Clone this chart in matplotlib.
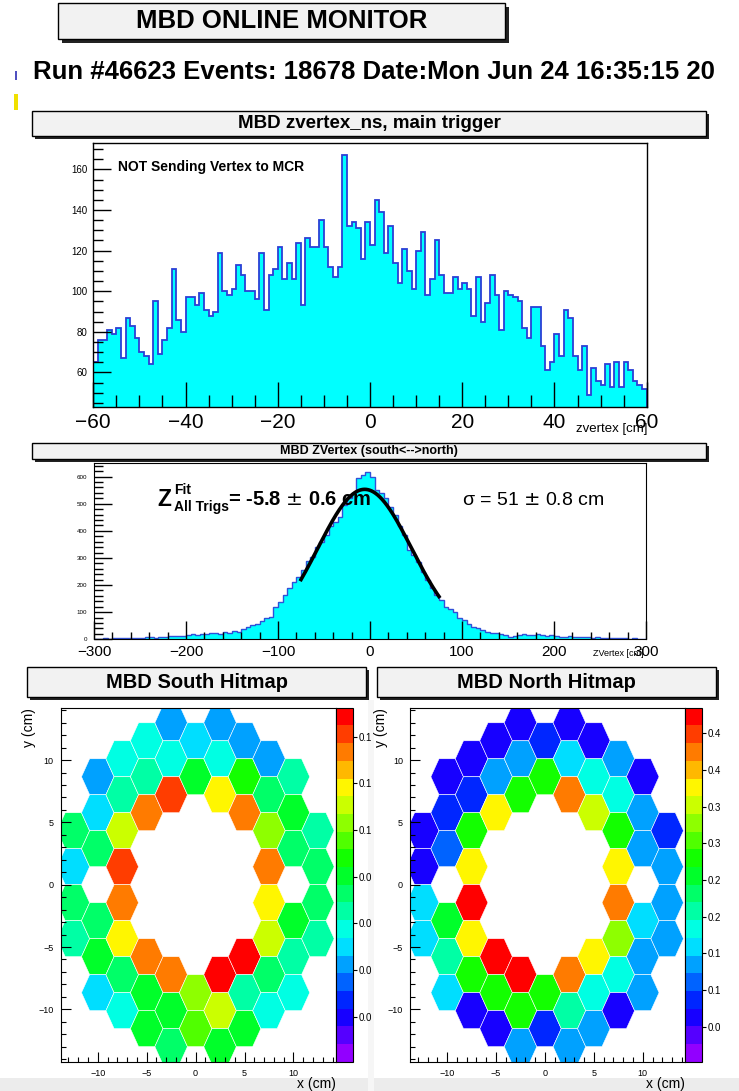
import colorsys
import numpy as np
import matplotlib
matplotlib.use("Agg")
import matplotlib.pyplot as plt
from matplotlib.patches import Rectangle, RegularPolygon
from matplotlib.collections import PatchCollection
from matplotlib.colors import ListedColormap, Normalize
from matplotlib.ticker import MultipleLocator

plt.rcParams['font.family'] = ['Liberation Sans', 'DejaVu Sans']

# ======================= DATA =======================
page_title = "MBD ONLINE MONITOR"
run_info = "Run #46623 Events: 18678 Date:Mon Jun 24 16:35:15 20"

# zvertex_ns, main trigger : 1 cm bins, -60 .. 60
top_title = "MBD zvertex_ns, main trigger"
top_lo, top_hi = -60, 60
top_counts = [
    65, 76, 76, 81, 79, 82, 67, 87, 83, 77,
    70, 68, 64, 95, 69, 76, 82, 111, 86, 80,
    97, 97, 93, 99, 91, 88, 90, 119, 100, 98,
    101, 113, 108, 100, 100, 96, 119, 91, 108, 111,
    122, 106, 114, 106, 124, 93, 126, 122, 122, 135,
    122, 112, 107, 112, 167, 132, 134, 131, 116, 134,
    123, 145, 139, 119, 132, 114, 104, 121, 110, 101,
    120, 129, 98, 106, 125, 108, 99, 99, 107, 101,
    104, 101, 88, 107, 85, 94, 108, 98, 81, 100,
    98, 97, 95, 82, 77, 92, 92, 73, 61, 65,
    79, 68, 91, 87, 68, 61, 73, 49, 62, 56,
    54, 64, 53, 65, 53, 65, 61, 56, 54, 52,
]
top_ylim = (43, 173)
top_note = "NOT Sending Vertex to MCR"

# ZVertex (south<-->north) : 5 cm bins, -300 .. 300
mid_title = "MBD ZVertex (south<-->north)"
mid_lo, mid_hi = -300, 300
mid_counts = [
    1, 2, 3, 2, 3, 4, 3, 5, 4, 6,
    5, 7, 8, 6, 9, 10, 12, 11, 14, 13,
    16, 18, 17, 20, 19, 22, 24, 21, 26, 25,
    29, 27, 37, 45, 52, 58, 68, 78, 84, 118,
    139, 164, 188, 213, 228, 256, 288, 305, 342, 360,
    385, 416, 434, 452, 495, 520, 538, 594, 606, 618,
    600, 551, 538, 520, 489, 459, 416, 385, 330, 311,
    286, 249, 219, 188, 164, 145, 120, 112, 102, 77,
    70, 58, 46, 40, 34, 28, 25, 22, 19, 17,
    10, 12, 16, 18, 15, 17, 19, 16, 14, 17,
    12, 10, 9, 11, 8, 9, 7, 8, 6, 7,
    5, 4, 5, 3, 4, 3, 2, 3, 2, 1,
]
mid_ylim = (0, 649)

# gaussian fit shown on the ZVertex plot
fit_amp = 553
fit_mean, fit_mean_err = -5.8, 0.6
fit_sigma, fit_sigma_err = 51, 0.8
fit_range = (-75, 75)

# hitmaps: hexagonal PMT layout, column index and row (in row pitches)
hex_cols = [-5, -4, -3, -2, -1, 0, 1, 2, 3, 4, 5]
hex_rows = [
    [1.5, 0.5, -0.5, -1.5],
    [3, 2, 1, -1, -2, -3],
    [3.5, 2.5, 1.5, 0.5, -0.5, -1.5, -2.5, -3.5],
    [4, 3, 2, -2, -3, -4],
    [4.5, 3.5, 2.5, -2.5, -3.5, -4.5],
    [4, 3, -3, -4],
    [4.5, 3.5, 2.5, -2.5, -3.5, -4.5],
    [4, 3, 2, -2, -3, -4],
    [3.5, 2.5, 1.5, 0.5, -0.5, -1.5, -2.5, -3.5],
    [3, 2, 1, -1, -2, -3],
    [1.5, 0.5, -0.5, -1.5],
]
south_vals = [
    [0.085, 0.076, 0.085, 0.081],
    [0.070, 0.076, 0.086, 0.087, 0.091, 0.076],
    [0.077, 0.081, 0.107, 0.120, 0.118, 0.109, 0.085, 0.077],
    [0.077, 0.081, 0.117, 0.117, 0.090, 0.091],
    [0.073, 0.080, 0.121, 0.118, 0.091, 0.085],
    [0.076, 0.091, 0.100, 0.097],
    [0.070, 0.077, 0.110, 0.125, 0.104, 0.090],
    [0.072, 0.093, 0.117, 0.125, 0.084, 0.091],
    [0.072, 0.085, 0.103, 0.116, 0.110, 0.107, 0.086, 0.077],
    [0.081, 0.090, 0.087, 0.090, 0.082, 0.077],
    [0.081, 0.085, 0.085, 0.081],
]
north_vals = [
    [0.071, 0.074, 0.165, 0.160],
    [0.074, 0.097, 0.114, 0.261, 0.209, 0.165],
    [0.074, 0.097, 0.270, 0.373, 0.475, 0.373, 0.270, 0.071],
    [0.071, 0.123, 0.373, 0.475, 0.270, 0.071],
    [0.071, 0.132, 0.275, 0.475, 0.278, 0.140],
    [0.092, 0.270, 0.270, 0.090],
    [0.071, 0.149, 0.428, 0.428, 0.200, 0.132],
    [0.071, 0.174, 0.347, 0.382, 0.174, 0.144],
    [0.123, 0.174, 0.270, 0.373, 0.424, 0.330, 0.190, 0.071],
    [0.074, 0.132, 0.140, 0.165, 0.140, 0.123],
    [0.090, 0.127, 0.127, 0.123],
]
south_range = (0.0504, 0.1262)
north_range = (0.0023, 0.485)
south_ticks = [0.06, 0.07, 0.08, 0.09, 0.10, 0.11, 0.12]
south_ticklabels = ["0.0", "0.0", "0.0", "0.0", "0.1", "0.1", "0.1"]
north_ticks = [0.05, 0.10, 0.15, 0.20, 0.25, 0.30, 0.35, 0.40, 0.45]
north_ticklabels = ["0.0", "0.1", "0.1", "0.2", "0.2", "0.3", "0.3", "0.4", "0.4"]

# ======================= FIGURE =======================
W, H = 739, 1091
fig = plt.figure(figsize=(W / 100, H / 100), dpi=100)
fig.patch.set_facecolor("white")


def rect(x0, y0, x1, y1):
    return [x0 / W, 1 - y1 / H, (x1 - x0) / W, (y1 - y0) / H]


def ftext(x, y, s, **kw):
    return fig.text(x / W, 1 - y / H, s, **kw)


def backrect(x0, y0, x1, y1, color):
    fig.patches.append(Rectangle((x0 / W, 1 - y1 / H), (x1 - x0) / W, (y1 - y0) / H,
                                 transform=fig.transFigure, facecolor=color,
                                 edgecolor="none", zorder=-5))


def pave(x0, y0, x1, y1, text, size, sh=4):
    fig.patches.append(Rectangle(((x0 + sh) / W, 1 - (y1 + sh) / H), (x1 - x0) / W, (y1 - y0) / H,
                                 transform=fig.transFigure, facecolor="#222222", edgecolor="none"))
    fig.patches.append(Rectangle((x0 / W, 1 - y1 / H), (x1 - x0) / W, (y1 - y0) / H,
                                 transform=fig.transFigure, facecolor="#f2f2f2",
                                 edgecolor="black", linewidth=1))
    ftext((x0 + x1) / 2, (y0 + y1) / 2, text, ha="center", va="center",
          fontsize=size, fontweight="bold")


# screen background bits
backrect(0, 1078, W, H, "#ececec")
backrect(368, 700, 374, H, "#f6f6f6")
backrect(14, 94, 18, 110, "#f0e000")
backrect(15, 71, 17, 80, "#5050c0")

pave(58, 3, 505, 39, page_title, 18.5)
ftext(33, 72, run_info, ha="left", va="center", fontsize=18.5, fontweight="bold")

# ---------------- top histogram ----------------
pave(32, 111, 706, 136, top_title, 13.5, sh=3)
ax1 = fig.add_axes(rect(93.3, 143, 646.7, 407))
top_edges = np.linspace(top_lo, top_hi, len(top_counts) + 1)
ax1.stairs(top_counts, top_edges, fill=True, color="#00ffff", linewidth=0)
ax1.stairs(top_counts, top_edges, color="#2b3fd6", linewidth=1.3)
ax1.set_xlim(top_lo, top_hi)
ax1.set_ylim(*top_ylim)
ax1.xaxis.set_major_locator(MultipleLocator(20))
ax1.xaxis.set_minor_locator(MultipleLocator(5))
ax1.yaxis.set_major_locator(MultipleLocator(20))
ax1.yaxis.set_minor_locator(MultipleLocator(5))
ax1.tick_params(axis="x", which="major", direction="in", length=18, width=1, labelsize=15, pad=4)
ax1.tick_params(axis="x", which="minor", direction="in", length=8.5, width=1)
ax1.tick_params(axis="y", which="major", direction="in", length=13, width=1, labelsize=7, pad=4)
ax1.tick_params(axis="y", which="minor", direction="in", length=7, width=1)
for sp in ax1.spines.values():
    sp.set_linewidth(1)
ax1.text(0.045, 0.91, top_note, transform=ax1.transAxes, ha="left", va="center",
         fontsize=10, fontweight="bold")
ftext(647, 429, "zvertex [cm]", ha="right", va="center", fontsize=9.5)

# ---------------- middle histogram ----------------
pave(32, 443, 706, 459, mid_title, 9, sh=3)
ax2 = fig.add_axes(rect(94, 463.3, 646, 639.3))
mid_edges = np.linspace(mid_lo, mid_hi, len(mid_counts) + 1)
ax2.stairs(mid_counts, mid_edges, fill=True, color="#00ffff", linewidth=0)
ax2.stairs(mid_counts, mid_edges, color="#3050d8", linewidth=1.0)
fx = np.linspace(fit_range[0], fit_range[1], 300)
ax2.plot(fx, fit_amp * np.exp(-0.5 * ((fx - fit_mean) / fit_sigma) ** 2), color="black", linewidth=2.6)
ax2.set_xlim(mid_lo, mid_hi)
ax2.set_ylim(*mid_ylim)
ax2.xaxis.set_major_locator(MultipleLocator(100))
ax2.xaxis.set_minor_locator(MultipleLocator(20))
ax2.yaxis.set_major_locator(MultipleLocator(100))
ax2.yaxis.set_minor_locator(MultipleLocator(20))
ax2.tick_params(axis="x", which="major", direction="in", length=13, width=1, labelsize=11, pad=4)
ax2.tick_params(axis="x", which="minor", direction="in", length=5, width=1)
ax2.tick_params(axis="y", which="major", direction="in", length=13, width=1, labelsize=4.5, pad=5)
ax2.tick_params(axis="y", which="minor", direction="in", length=6.5, width=1)
ftext(644, 653, "ZVertex [cm]", ha="right", va="center", fontsize=6.5)

ftext(157, 506, "Z", ha="left", va="baseline", fontsize=16.5, fontweight="bold")
ftext(174, 494, "Fit", ha="left", va="baseline", fontsize=10, fontweight="bold")
ftext(174, 511, "All Trigs", ha="left", va="baseline", fontsize=10, fontweight="bold")
ftext(228, 505, "= %.1f $\\pm$ %.1f cm" % (fit_mean, fit_mean_err), ha="left", va="baseline",
      fontsize=14.5, fontweight="bold")
ftext(462, 505, "\u03c3 = %d $\\pm$ %.1f cm" % (fit_sigma, fit_sigma_err), ha="left", va="baseline",
      fontsize=14)

# ---------------- hitmaps ----------------
hues = np.linspace(274.4, 0, 20)
root_pal = ListedColormap([colorsys.hls_to_rgb(h / 360.0, 0.5, 1.0) for h in hues])
hex_dx = 2.5
hex_r = hex_dx / 1.5
hex_dy = np.sqrt(3) * hex_r


def hitmap(x0, x1, ylab_x, title_box, vals, vrange, ticks, ticklabels):
    pave(title_box[0], 667, title_box[1], 697, title_box[2], 14.5, sh=3)
    ax = fig.add_axes(rect(x0, 707.7, x1, 1061.7))
    cax = fig.add_axes(rect(x1, 707.7, x1 + 17.5, 1061.7))
    polys, cvals = [], []
    for col, rows, vv in zip(hex_cols, hex_rows, vals):
        for r, v in zip(rows, vv):
            polys.append(RegularPolygon((col * hex_dx, r * hex_dy), 6, radius=hex_r,
                                        orientation=np.pi / 6))
            cvals.append(v)
    pc = PatchCollection(polys, cmap=root_pal, norm=Normalize(*vrange),
                         edgecolor="white", linewidth=0.4)
    pc.set_array(np.array(cvals))
    ax.add_collection(pc)
    ax.set_xlim(-13.8, 14.3)
    ax.set_ylim(-14.2, 14.2)
    ax.xaxis.set_major_locator(MultipleLocator(5))
    ax.xaxis.set_minor_locator(MultipleLocator(1))
    ax.yaxis.set_major_locator(MultipleLocator(5))
    ax.yaxis.set_minor_locator(MultipleLocator(1))
    ax.tick_params(which="major", direction="in", length=7, width=0.8, labelsize=6.5, pad=5)
    ax.tick_params(which="minor", direction="in", length=3.5, width=0.8)
    ax.set_xlabel("x (cm)", fontsize=10, loc="right")
    ax.set_ylabel("y (cm)", fontsize=10, loc="top")
    ax.xaxis.set_label_coords(1.0, -(1077 - 1061.7) / 354.0)
    ax.yaxis.set_label_coords(-(x0 - ylab_x) / (x1 - x0), 1.0)
    cb = fig.colorbar(pc, cax=cax)
    cb.set_ticks(ticks)
    cb.set_ticklabels(ticklabels)
    cb.ax.tick_params(direction="out", length=3, width=0.8, labelsize=7, pad=1)
    cb.outline.set_linewidth(0.8)
    return ax


hitmap(60.6, 335.5, 36, (27, 366, "MBD South Hitmap"), south_vals, south_range,
       south_ticks, south_ticklabels)
hitmap(410, 684.8, 388, (377, 716, "MBD North Hitmap"), north_vals, north_range,
       north_ticks, north_ticklabels)

fig.savefig("out.png", dpi=100)
